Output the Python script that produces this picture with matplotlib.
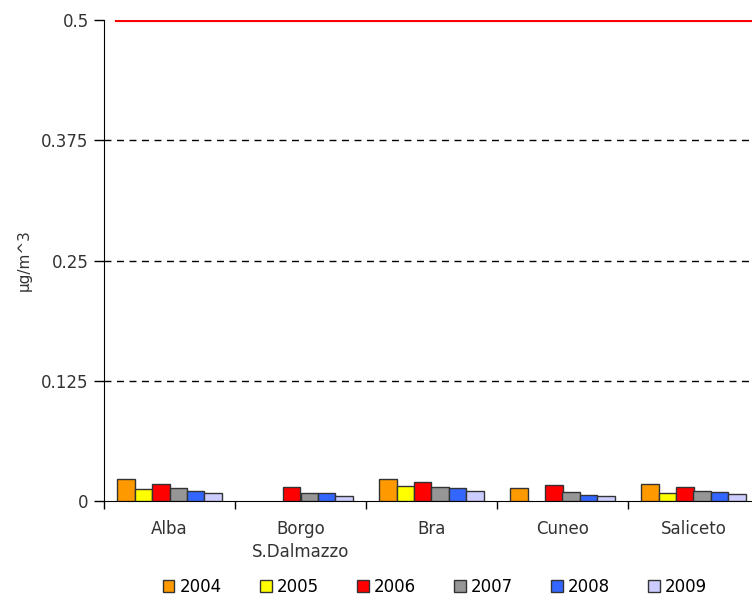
import numpy as np
import matplotlib.pyplot as plt

plt.rcParams['font.family'] = ['DejaVu Sans']

stations = ['Alba', 'Borgo\nS.Dalmazzo', 'Bra', 'Cuneo', 'Saliceto']
years = ['2004', '2005', '2006', '2007', '2008', '2009']
colors = ['#FF9900', '#FFFF00', '#FF0000', '#969696', '#3366FF', '#CCCCFF']

v2004 = [0.023, np.nan, 0.023, 0.0132, 0.0177]
v2005 = [0.012, np.nan, 0.016, np.nan, 0.008]
v2006 = [0.018, 0.0146, 0.020, 0.0163, 0.0146]
v2007 = [0.0135, 0.0083, 0.0146, 0.0094, 0.0107]
v2008 = [0.0107, 0.0083, 0.0132, 0.0066, 0.0094]
v2009 = [0.0083, 0.0056, 0.0107, 0.0052, 0.0070]
series = [v2004, v2005, v2006, v2007, v2008, v2009]

limit = 0.5

fig = plt.figure(figsize=(7.52, 5.99), dpi=100)
ax = fig.add_axes([104 / 752, 1 - 501 / 599, 655 / 752, 481 / 599])

x = np.arange(len(stations))
w = 0.8 / 6
for i, (vals, col, yr) in enumerate(zip(series, colors, years)):
    ax.bar(x - 0.4 + w * (i + 0.5), vals, width=w, color=col,
           edgecolor='#333333', linewidth=1, label=yr, zorder=3)

# limit value line
ax.plot([-0.4, len(stations) - 0.4], [limit, limit], color='#FF0000', lw=3, zorder=4)

ax.set_xlim(-0.5, len(stations) - 0.5)
ax.set_ylim(0, 0.5)
ax.set_yticks([0, 0.125, 0.25, 0.375, 0.5])
ax.set_yticklabels(['0', '0.125', '0.25', '0.375', '0.5'], fontsize=12, color='#333333')
ax.set_xticks(x)
ax.set_xticklabels(stations, fontsize=12, color='#333333', linespacing=1.35)
ax.tick_params(axis='x', length=0, pad=14)
ax.set_xticks(np.arange(-0.5, len(stations)), minor=True)
ax.tick_params(axis='x', which='minor', length=6, direction='out', width=1)
ax.tick_params(axis='y', length=7, direction='out', width=1, pad=4)

for yv in [0.125, 0.25, 0.375]:
    ax.axhline(yv, color='black', lw=1, ls=(0, (5, 4)), zorder=1)

ax.spines['top'].set_visible(False)
ax.spines['right'].set_visible(False)

ax.set_ylabel('µg/m^3', fontsize=11, color='#333333', labelpad=7)

fig.legend(loc='center', bbox_to_anchor=(435 / 752, 1 - 587 / 599), ncol=6,
           frameon=False, fontsize=12, handlelength=0.7, handleheight=0.7,
           handletextpad=0.3, columnspacing=2.3)

fig.savefig('out.png', dpi=100)
